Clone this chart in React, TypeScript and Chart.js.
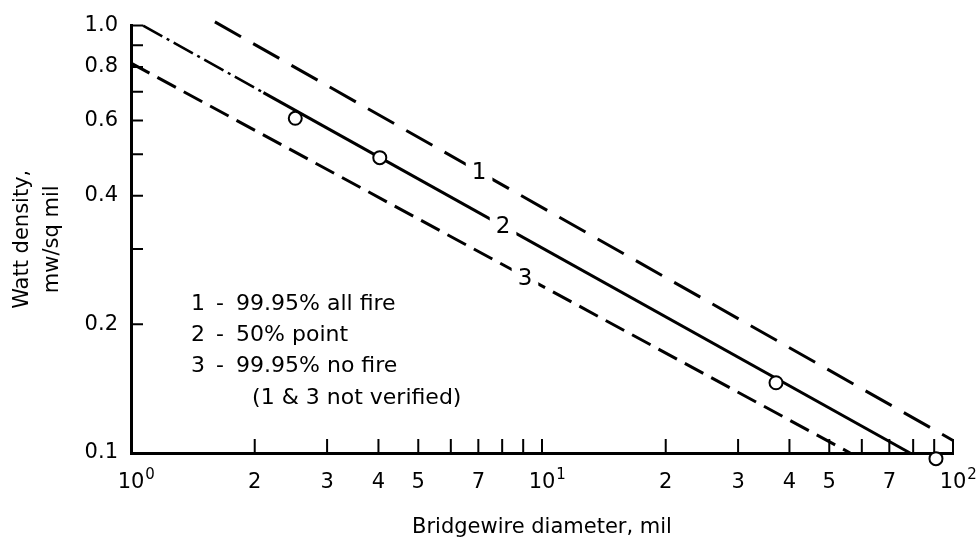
import { useEffect, useRef } from "react";
import { Chart, registerables } from "chart.js";

Chart.register(...registerables);

const FONT = "'DejaVu Sans', 'Liberation Sans', sans-serif";

// Axis ticks
const X_TICK_VALUES = [1, 2, 3, 4, 5, 6, 7, 8, 9, 10, 20, 30, 40, 50, 60, 70, 80, 90, 100];
const X_TICK_LABELS = ["", "2", "3", "4", "5", "", "7", "", "", "", "2", "3", "4", "5", "", "7", "", "", ""];
const X_POWER_VALUES = [1, 10, 100];
const X_POWER_BASES = ["10", "10", "10"];
const X_POWER_EXPONENTS = ["0", "1", "2"];
const Y_TICK_VALUES = [0.1, 0.2, 0.3, 0.4, 0.5, 0.6, 0.7, 0.8, 0.9, 1.0];
const Y_TICK_LABELS = ["0.1", "0.2", "", "0.4", "", "0.6", "", "0.8", "", "1.0"];

// Curve 1 - 99.95% all fire
const LINE1_X = [1.6, 100];
const LINE1_Y = [1.02, 0.107];
// Curve 2 - 50% point (extrapolated part, then fitted part)
const LINE2_EXT_X = [1.07, 2.1];
const LINE2_EXT_Y = [1.0, 0.697];
const LINE2_X = [2.1, 78.6];
const LINE2_Y = [0.697, 0.1];
// Curve 3 - 99.95% no fire
const LINE3_X = [1.0, 56.2];
const LINE3_Y = [0.817, 0.1];
// Test points
const TEST_X = [2.51, 4.03, 37.1, 90.9];
const TEST_Y = [0.607, 0.491, 0.146, 0.097];

// Curve labels
const CURVE_NAMES = ["1", "2", "3"];
const CURVE_LABEL_X = [7.03, 8.04, 9.09];
const CURVE_LABEL_Y = [0.454, 0.339, 0.257];

// Legend text
const LEGEND_NUMS = ["1", "2", "3"];
const LEGEND_TEXTS = ["99.95% all fire", "50% point", "99.95% no fire"];
const LEGEND_NOTE = "(1 & 3 not verified)";
const LEGEND_ANCHOR_X = 1.456;
const LEGEND_ANCHOR_Y = 0.223;

const TICK_FONT_SIZE = 21;
const X_TICK_PADDING = 17;

const toPts = (xs: number[], ys: number[]) => xs.map((x, i) => ({ x, y: ys[i] }));

const annotate = {
  id: "annotate",
  beforeDatasetsDraw(chart: any) {
    const { ctx, chartArea, scales } = chart;
    const xs = scales.x;
    const ys = scales.y;
    ctx.save();
    ctx.strokeStyle = "#000";
    ctx.lineWidth = 2;
    ctx.beginPath();
    X_TICK_VALUES.forEach((v) => {
      if (v === 1) return;
      const px = xs.getPixelForValue(v);
      ctx.moveTo(px, chartArea.bottom);
      ctx.lineTo(px, chartArea.bottom - 14);
    });
    Y_TICK_VALUES.forEach((v) => {
      if (v === 0.1) return;
      const py = ys.getPixelForValue(v);
      ctx.moveTo(chartArea.left, py);
      ctx.lineTo(chartArea.left + 12, py);
    });
    ctx.stroke();
    ctx.restore();
  },
  afterDatasetsDraw(chart: any) {
    const { ctx, scales, chartArea } = chart;
    const xs = scales.x;
    const ys = scales.y;
    ctx.save();
    ctx.fillStyle = "#000";
    ctx.textBaseline = "middle";
    // power-of-ten tick labels with superscript exponent
    const labelY = chartArea.bottom + X_TICK_PADDING + (TICK_FONT_SIZE * 1.2) / 2;
    X_POWER_VALUES.forEach((v, i) => {
      const px = xs.getPixelForValue(v);
      ctx.font = `${TICK_FONT_SIZE}px ${FONT}`;
      ctx.textAlign = "center";
      ctx.fillText(X_POWER_BASES[i], px, labelY);
      const w = ctx.measureText(X_POWER_BASES[i]).width;
      ctx.font = `15px ${FONT}`;
      ctx.textAlign = "left";
      ctx.fillText(X_POWER_EXPONENTS[i], px + w / 2 + 1, labelY - 7);
    });
    // curve labels, with a gap in the line
    ctx.font = `23px ${FONT}`;
    ctx.textAlign = "center";
    CURVE_NAMES.forEach((t, i) => {
      const px = xs.getPixelForValue(CURVE_LABEL_X[i]);
      const py = ys.getPixelForValue(CURVE_LABEL_Y[i]);
      const w = ctx.measureText(t).width + 12;
      ctx.fillStyle = "#fff";
      ctx.fillRect(px - w / 2, py - 13, w, 26);
      ctx.fillStyle = "#000";
      ctx.fillText(t, px, py + 1);
    });
    // legend block
    const ax = xs.getPixelForValue(LEGEND_ANCHOR_X);
    const ay = ys.getPixelForValue(LEGEND_ANCHOR_Y);
    ctx.font = `22px ${FONT}`;
    LEGEND_NUMS.forEach((n, i) => {
      const yy = ay + i * 31;
      ctx.textAlign = "center";
      ctx.fillText(n, ax, yy);
      ctx.fillText("-", ax + 22, yy);
      ctx.textAlign = "left";
      ctx.fillText(LEGEND_TEXTS[i], ax + 38, yy);
    });
    ctx.textAlign = "left";
    ctx.fillText(LEGEND_NOTE, ax + 54, ay + 3 * 31 + 1);
    ctx.restore();
  },
};

export default function App() {
  const canvasRef = useRef<HTMLCanvasElement | null>(null);

  useEffect(() => {
    if (!canvasRef.current) return;
    const lineBase = {
      showLine: true,
      pointRadius: 0,
      borderColor: "#000",
      backgroundColor: "#000",
      borderWidth: 3,
      fill: false,
      clip: false as any,
      borderCapStyle: "butt" as const,
    };
    const chart = new Chart(canvasRef.current, {
      type: "scatter",
      data: {
        datasets: [
          {
            label: "test points",
            data: toPts(TEST_X, TEST_Y),
            showLine: false,
            pointRadius: 6.5,
            pointBorderWidth: 2,
            pointBackgroundColor: "#fff",
            pointBorderColor: "#000",
            clip: false as any,
          },
          { ...lineBase, label: "1", data: toPts(LINE1_X, LINE1_Y), borderDash: [30, 14] },
          { ...lineBase, label: "2 ext", data: toPts(LINE2_EXT_X, LINE2_EXT_Y), borderWidth: 2.5, borderDash: [22, 5, 3, 5] },
          { ...lineBase, label: "2", data: toPts(LINE2_X, LINE2_Y) },
          { ...lineBase, label: "3", data: toPts(LINE3_X, LINE3_Y), borderDash: [21, 9] },
        ],
      },
      options: {
        animation: false,
        responsive: true,
        maintainAspectRatio: false,
        events: [],
        layout: { padding: { top: 19, right: 26, left: 0, bottom: 0 } },
        plugins: {
          legend: { display: false },
          tooltip: { enabled: false },
        },
        scales: {
          x: {
            type: "logarithmic",
            position: "bottom",
            min: 1,
            max: 100,
            afterBuildTicks: (s: any) => {
              s.ticks = X_TICK_VALUES.map((v) => ({ value: v }));
            },
            afterFit: (s: any) => {
              s.height = 85;
            },
            grid: { display: false, drawTicks: false },
            border: { display: true, color: "#000", width: 3 },
            ticks: {
              autoSkip: false,
              maxRotation: 0,
              minRotation: 0,
              padding: X_TICK_PADDING,
              color: "#000",
              font: { family: FONT, size: TICK_FONT_SIZE, lineHeight: 1.2 },
              callback: (_v: any, i: number) => X_TICK_LABELS[i],
            },
            title: {
              display: true,
              text: "Bridgewire diameter, mil",
              color: "#000",
              font: { family: FONT, size: 21, lineHeight: 1 },
              padding: { top: 0, bottom: 0 },
            },
          },
          y: {
            type: "logarithmic",
            position: "left",
            min: 0.1,
            max: 1.0,
            afterBuildTicks: (s: any) => {
              s.ticks = Y_TICK_VALUES.map((v) => ({ value: v }));
            },
            afterFit: (s: any) => {
              s.width = 131;
            },
            grid: { display: false, drawTicks: false },
            border: { display: true, color: "#000", width: 3 },
            ticks: {
              autoSkip: false,
              padding: 13,
              color: "#000",
              font: { family: FONT, size: TICK_FONT_SIZE },
              callback: (_v: any, i: number) => Y_TICK_LABELS[i],
            },
            title: {
              display: true,
              text: ["Watt density,", "mw/sq mil"],
              color: "#000",
              font: { family: FONT, size: 21, lineHeight: 1.43 },
              padding: { top: 8, bottom: 0 },
            },
          },
        },
      },
      plugins: [annotate],
    });
    return () => chart.destroy();
  }, []);

  return (
    <div style={{ position: "fixed", left: 0, top: 0, width: 979, height: 538, background: "#fff" }}>
      <canvas ref={canvasRef} />
    </div>
  );
}
